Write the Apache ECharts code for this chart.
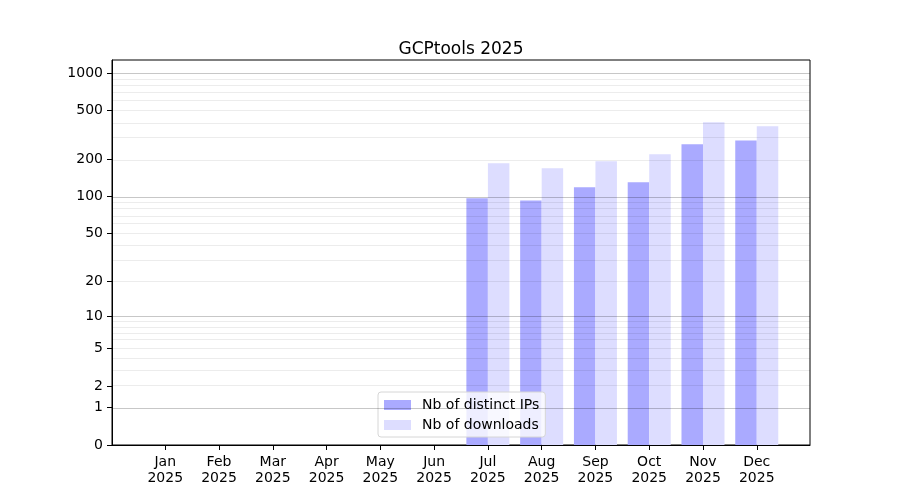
<!DOCTYPE html>
<html>
<head>
<meta charset="utf-8">
<script src="https://cdn.jsdelivr.net/npm/echarts@6/dist/echarts.min.js"></script>
<style>
  html, body { margin: 0; padding: 0; background: #fff; }
  #main { width: 900px; height: 500px; }
</style>
</head>
<body>
<div id="main"></div>
<script>
// data
var months = ['Jan', 'Feb', 'Mar', 'Apr', 'May', 'Jun', 'Jul', 'Aug', 'Sep', 'Oct', 'Nov', 'Dec'];
var yearLabel = '2025';
var distinctIPs = [0, 0, 0, 0, 0, 0, 97, 93, 119, 131, 266, 285];
var downloads = [0, 0, 0, 0, 0, 0, 187, 170, 194, 221, 402, 373];
var yTicks = [0, 1, 2, 5, 10, 20, 50, 100, 200, 500, 1000];
var majorGrid = [1, 10, 100, 1000];
var minorGrid = [2, 3, 4, 5, 6, 7, 8, 9, 20, 30, 40, 50, 60, 70, 80, 90, 200, 300, 400, 500, 600, 700, 800, 900];

var FONT = 'DejaVu Sans';

// y scale: log10(1 + v)
function tf(v) { return Math.log10(1 + v); }

var chart = echarts.init(document.getElementById('main'));

var ipData = [], dlData = [], xTicks = [];
for (var i = 0; i < months.length; i++) {
    ipData.push([i - 0.2, tf(distinctIPs[i])]);
    dlData.push([i + 0.2, tf(downloads[i])]);
    xTicks.push(i);
}

var gridLines = [];
majorGrid.forEach(function (v) {
    gridLines.push({ yAxis: tf(v), lineStyle: { color: 'rgba(0,0,0,0.22)', width: 1, type: 'solid' } });
});
minorGrid.forEach(function (v) {
    gridLines.push({ yAxis: tf(v), lineStyle: { color: 'rgba(0,0,0,0.075)', width: 1, type: 'solid' } });
});

var option = {
    animation: false,
    backgroundColor: '#fff',
    textStyle: { fontFamily: FONT },
    title: {
        text: 'GCPtools 2025',
        left: 456,
        top: 36,
        textAlign: 'center',
        textStyle: { fontFamily: FONT, fontSize: 17, fontWeight: 'normal', color: '#000' }
    },
    grid: {
        left: 112, right: 90, top: 60, bottom: 55,
        show: true, borderColor: '#000', borderWidth: 1, backgroundColor: 'transparent'
    },
    legend: {
        orient: 'vertical',
        left: 378,
        top: 392,
        icon: 'rect',
        itemWidth: 27,
        itemHeight: 10,
        itemGap: 6,
        padding: [6, 6, 5, 6],
        backgroundColor: 'rgba(255,255,255,0.8)',
        borderColor: '#d6d6d6',
        borderWidth: 1,
        borderRadius: 3,
        textStyle: { fontFamily: FONT, fontSize: 14, color: '#000', padding: [0, 0, 0, 6] },
        data: ['Nb of distinct IPs', 'Nb of downloads']
    },
    xAxis: {
        type: 'value',
        min: -0.99,
        max: 11.99,
        axisLine: { show: true, onZero: false, lineStyle: { color: '#000', width: 1 } },
        axisTick: { show: true, customValues: xTicks, length: 5, lineStyle: { color: '#000' } },
        axisLabel: {
            customValues: xTicks,
            margin: 9,
            fontFamily: FONT,
            fontSize: 14,
            lineHeight: 16,
            color: '#000',
            formatter: function (v) { return months[Math.round(v)] + '\n' + yearLabel; }
        },
        splitLine: { show: false }
    },
    yAxis: {
        type: 'value',
        min: 0,
        max: 3.107,
        axisLine: { show: true, onZero: false, lineStyle: { color: '#000', width: 1 } },
        axisTick: { show: true, customValues: yTicks.map(tf), length: 5, lineStyle: { color: '#000' } },
        axisLabel: {
            customValues: yTicks.map(tf),
            margin: 9,
            fontFamily: FONT,
            fontSize: 14,
            color: '#000',
            formatter: function (v) { return String(Math.round(Math.pow(10, v) - 1)); }
        },
        splitLine: { show: false }
    },
    series: [
        {
            name: 'Nb of distinct IPs',
            type: 'bar',
            barWidth: 21.5,
            barGap: '-100%',
            itemStyle: { color: '#aaaaff' },
            data: ipData
        },
        {
            name: 'Nb of downloads',
            type: 'bar',
            barWidth: 21.5,
            barGap: '-100%',
            itemStyle: { color: '#ddddff' },
            data: dlData,
            markLine: {
                silent: true,
                symbol: ['none', 'none'],
                label: { show: false },
                data: gridLines
            }
        }
    ]
};

chart.setOption(option);
</script>
</body>
</html>
